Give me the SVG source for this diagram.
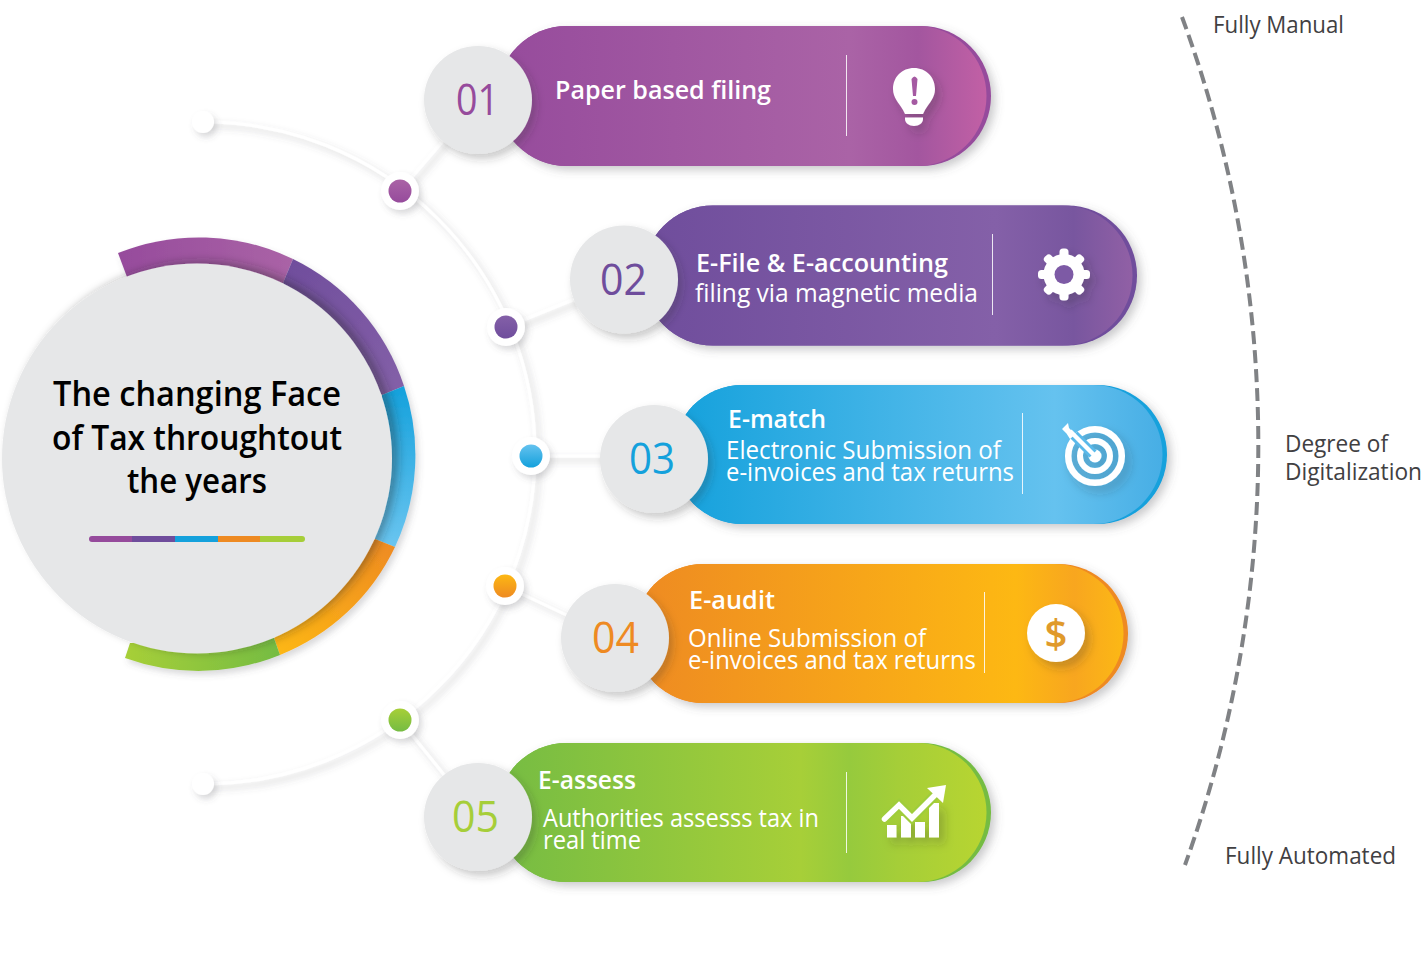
<svg xmlns="http://www.w3.org/2000/svg" width="1424" height="970" viewBox="0 0 1424 970">
<style>
text{font-family:"Open Sans","Noto Sans","Liberation Sans",sans-serif}
.num{font-size:43px;font-weight:400;text-anchor:start}
.head{font-size:25px;font-weight:600;fill:#fff}
.body{font-size:25px;font-weight:400;fill:#fff}
.side{font-size:23px;font-weight:400;fill:#414042}
.title{font-size:34.5px;font-weight:600;fill:#000}
.div{stroke:#fff;stroke-width:1;opacity:.85}
.disc{fill:#e6e7e8;filter:url(#sNum)}
.hub{fill:#fff;filter:url(#sHub)}
.link{fill:none;stroke:#fff;stroke-width:3}
.ic{fill:#fff}
</style>
<defs>
<filter id="sPill" x="-10%" y="-20%" width="125%" height="150%"><feDropShadow dx="4" dy="4" stdDeviation="5" flood-color="#58595b" flood-opacity=".32"/></filter>
<filter id="sNum" x="-30%" y="-30%" width="170%" height="170%"><feDropShadow dx="4" dy="5" stdDeviation="4.500" flood-color="#2b2b2b" flood-opacity=".25"/></filter>
<filter id="sHub" x="-50%" y="-50%" width="220%" height="220%"><feDropShadow dx="3" dy="4" stdDeviation="3" flood-color="#58595b" flood-opacity=".22"/></filter>
<filter id="sLink" x="-10%" y="-10%" width="130%" height="130%"><feDropShadow dx="4" dy="4" stdDeviation="3.500" flood-color="#58595b" flood-opacity=".26"/></filter>
<filter id="sIcon" x="-50%" y="-50%" width="220%" height="220%"><feDropShadow dx="5" dy="6" stdDeviation="5" flood-color="#2b2b2b" flood-opacity=".25"/></filter>
<filter id="sBig" x="-10%" y="-10%" width="125%" height="125%"><feDropShadow dx="6" dy="-2" stdDeviation="5" flood-color="#2b2b2b" flood-opacity=".38"/></filter>
<linearGradient id="p1"><stop offset="0" stop-color="#964b9c"/><stop offset=".72" stop-color="#aa63a6"/><stop offset=".86" stop-color="#a3569f"/><stop offset="1" stop-color="#c260a5"/></linearGradient>
<linearGradient id="p2"><stop offset="0" stop-color="#6f4d9c"/><stop offset=".72" stop-color="#8460a8"/><stop offset=".88" stop-color="#78569f"/><stop offset="1" stop-color="#9160a5"/></linearGradient>
<linearGradient id="p3"><stop offset="0" stop-color="#14a1dc"/><stop offset=".78" stop-color="#65c2ef"/><stop offset="1" stop-color="#47aee5"/></linearGradient>
<linearGradient id="p4"><stop offset="0" stop-color="#ee8a22"/><stop offset=".78" stop-color="#fdb813"/><stop offset=".9" stop-color="#f8a61f"/><stop offset="1" stop-color="#fcb815"/></linearGradient>
<linearGradient id="p5"><stop offset="0" stop-color="#75bc43"/><stop offset=".62" stop-color="#a7cf38"/><stop offset=".72" stop-color="#96ca3d"/><stop offset=".82" stop-color="#a5ce38"/><stop offset="1" stop-color="#b8d531"/></linearGradient>
<linearGradient id="r1"><stop offset="0" stop-color="#964b9c"/><stop offset="1" stop-color="#aa63a6"/></linearGradient>
<linearGradient id="r2" x1="0" y1="0" x2="1" y2="1"><stop offset="0" stop-color="#6f4d9c"/><stop offset="1" stop-color="#8460a8"/></linearGradient>
<linearGradient id="r3" x1="0" y1="0" x2="0" y2="1"><stop offset="0" stop-color="#14a1dc"/><stop offset="1" stop-color="#6ac5f0"/></linearGradient>
<linearGradient id="r4" x1="1" y1="0" x2="0" y2="1"><stop offset="0" stop-color="#ee8a22"/><stop offset="1" stop-color="#fdb813"/></linearGradient>
<linearGradient id="r5" x1="1" y1="0" x2="0" y2="0"><stop offset="0" stop-color="#75bc43"/><stop offset="1" stop-color="#a7cf38"/></linearGradient>
<linearGradient id="d1" x1="0" y1="1" x2="0" y2="0"><stop offset="0" stop-color="#964b9c"/><stop offset="1" stop-color="#aa63a6"/></linearGradient>
<linearGradient id="d2" x1="0" y1="1" x2="0" y2="0"><stop offset="0" stop-color="#6f4d9c"/><stop offset="1" stop-color="#8460a8"/></linearGradient>
<linearGradient id="d3" x1="0" y1="1" x2="0" y2="0"><stop offset="0" stop-color="#14a1dc"/><stop offset="1" stop-color="#65c2ef"/></linearGradient>
<linearGradient id="d4" x1="0" y1="1" x2="0" y2="0"><stop offset="0" stop-color="#ee8a22"/><stop offset="1" stop-color="#fdb813"/></linearGradient>
<linearGradient id="d5" x1="0" y1="1" x2="0" y2="0"><stop offset="0" stop-color="#75bc43"/><stop offset="1" stop-color="#a7cf38"/></linearGradient>
</defs>

<g id="connectors" filter="url(#sLink)">
<path class="link" d="M204 122A331 331 0 0 1 204 784"/>
<path class="link" d="M400 191L478 100"/>
<path class="link" d="M506 327L624 279"/>
<path class="link" d="M531 456H654"/>
<path class="link" d="M505 586L615 638"/>
<path class="link" d="M400 720L478 817"/>
</g>

<path id="scale" d="M1182 17A1239 1239 0 0 1 1185 865" fill="none" stroke="#808285" stroke-width="4" stroke-dasharray="13 6"/>

<g id="start-top"><circle class="hub" cx="203" cy="122" r="11"/></g>
<g id="start-bottom"><circle class="hub" cx="203" cy="784" r="11"/></g>
<g id="hub-1"><circle class="hub" cx="400" cy="191" r="19"/><circle cx="400" cy="191" r="11.500" fill="url(#d1)"/></g>
<g id="hub-2"><circle class="hub" cx="506" cy="327" r="19"/><circle cx="506" cy="327" r="11.500" fill="url(#d2)"/></g>
<g id="hub-3"><circle class="hub" cx="531" cy="456" r="19"/><circle cx="531" cy="456" r="11.500" fill="url(#d3)"/></g>
<g id="hub-4"><circle class="hub" cx="505" cy="586" r="19"/><circle cx="505" cy="586" r="11.500" fill="url(#d4)"/></g>
<g id="hub-5"><circle class="hub" cx="400" cy="720" r="19"/><circle cx="400" cy="720" r="11.500" fill="url(#d5)"/></g>

<g id="center">
<g filter="url(#sHub)">
<path d="M118 253A216.500 216.500 0 0 1 293 259L283 283L127 277Z" fill="url(#r1)"/>
<path d="M293 259A216.500 216.500 0 0 1 404 386L382 395L283 283Z" fill="url(#r2)"/>
<path d="M404 386A216.500 216.500 0 0 1 395 547L375 539L382 395Z" fill="url(#r3)"/>
<path d="M395 547A216.500 216.500 0 0 1 280 655L274 638L375 539Z" fill="url(#r4)"/>
<path d="M280 655A216.500 216.500 0 0 1 125 658L130 643L274 638Z" fill="url(#r5)"/>
</g>
<circle cx="197" cy="458.500" r="195" fill="#e6e7e8" filter="url(#sBig)"/>
<text class="title" x="53" y="406" textLength="288" lengthAdjust="spacingAndGlyphs">The changing Face</text>
<text class="title" x="52" y="449.500" textLength="290" lengthAdjust="spacingAndGlyphs">of Tax throughtout</text>
<text class="title" x="127" y="493" textLength="140" lengthAdjust="spacingAndGlyphs">the years</text>
<path d="M92 536H132V542H92A3 3 0 0 1 92 536Z" fill="#964b9c"/>
<rect x="132" y="536" width="43" height="6" fill="#6f4d9c"/>
<rect x="175" y="536" width="43" height="6" fill="#14a1dc"/>
<rect x="218" y="536" width="42" height="6" fill="#ee8a22"/>
<path d="M260 536H302A3 3 0 0 1 302 542H260Z" fill="#a6ce39"/>
</g>

<g id="node-1">
<rect x="497" y="26" width="494" height="140" rx="70" fill="#964b9c" filter="url(#sPill)"/>
<rect x="497" y="26" width="489.500" height="140" rx="70" fill="url(#p1)"/>
<line class="div" x1="846.500" y1="55" x2="846.500" y2="136"/>
<g filter="url(#sIcon)"><path class="ic" d="M914 68C902 68 893 77 893 89C893 98 899 103 903 110L905 114H923L925 110C929 103 935 98 935 89C935 77 926 68 914 68Z"/><path class="ic" d="M905 117.500H923V119C923 123 919 126 914 126C909 126 905 123 905 119Z"/></g>
<path d="M911.500 79Q914.500 74 917.500 79L916 96H913Z" fill="#a55aa2"/><circle cx="914.500" cy="102" r="3" fill="#a55aa2"/>
<circle class="disc" cx="478" cy="100" r="54"/>
<text class="num" x="456" y="115" fill="#964b9c" textLength="43" lengthAdjust="spacingAndGlyphs">01</text>
<text class="head" x="555" y="99" textLength="216" lengthAdjust="spacingAndGlyphs">Paper based filing</text>
</g>

<g id="node-2">
<rect x="643" y="205.500" width="494" height="140" rx="70" fill="#6f4d9c" filter="url(#sPill)"/>
<rect x="643" y="205.500" width="489.500" height="140" rx="70" fill="url(#p2)"/>
<line class="div" x1="992.500" y1="234" x2="992.500" y2="315"/>
<g filter="url(#sIcon)" fill="#fff">
<circle cx="1064" cy="274.500" r="15" fill="none" stroke="#fff" stroke-width="11"/>
<rect x="1059.500" y="248.500" width="9" height="52" rx="3.500"/><rect x="1038" y="270" width="52" height="9" rx="3.500"/><rect x="1059.500" y="248.500" width="9" height="52" rx="3.500" transform="rotate(45 1064 274.500)"/><rect x="1059.500" y="248.500" width="9" height="52" rx="3.500" transform="rotate(-45 1064 274.500)"/>
</g>
<circle cx="1064" cy="274.500" r="9.500" fill="#7d5aa5"/>
<circle class="disc" cx="624" cy="279.500" r="54"/>
<text class="num" x="600" y="295" fill="#6f4d9c" textLength="47" lengthAdjust="spacingAndGlyphs">02</text>
<text class="head" x="696" y="272" textLength="252" lengthAdjust="spacingAndGlyphs">E-File &amp; E-accounting</text>
<text class="body" x="695" y="302" textLength="283" lengthAdjust="spacingAndGlyphs">filing via magnetic media</text>
</g>

<g id="node-3">
<rect x="673" y="385" width="494" height="139" rx="69.500" fill="#14a1dc" filter="url(#sPill)"/>
<rect x="673" y="385" width="489.500" height="139" rx="69.500" fill="url(#p3)"/>
<line class="div" x1="1022.500" y1="413" x2="1022.500" y2="494"/>
<g filter="url(#sIcon)">
<circle cx="1095" cy="456" r="26.800" fill="none" stroke="#fff" stroke-width="6.500"/>
<circle cx="1095" cy="456" r="15" fill="none" stroke="#fff" stroke-width="6"/>
<circle cx="1095" cy="456" r="6.500" fill="#fff"/>
</g>
<line x1="1093" y1="454" x2="1074" y2="435" stroke="#5ab9ea" stroke-width="10"/>
<line x1="1095" y1="456" x2="1070" y2="431" stroke="#fff" stroke-width="4.500"/>
<path class="ic" d="M1062 429L1068 423L1069 428L1075 434L1070 439L1066.500 433.500Z"/>
<circle class="disc" cx="654" cy="459" r="54"/>
<text class="num" x="629" y="474" fill="#14a1dc" textLength="46" lengthAdjust="spacingAndGlyphs">03</text>
<text class="head" x="728" y="428" textLength="98" lengthAdjust="spacingAndGlyphs">E-match</text>
<text class="body" x="726" y="459" textLength="275" lengthAdjust="spacingAndGlyphs">Electronic Submission of</text>
<text class="body" x="726" y="481" textLength="288" lengthAdjust="spacingAndGlyphs">e-invoices and tax returns</text>
</g>

<g id="node-4">
<rect x="634" y="564" width="494" height="139" rx="69.500" fill="#ee8a22" filter="url(#sPill)"/>
<rect x="634" y="564" width="489.500" height="139" rx="69.500" fill="url(#p4)"/>
<line class="div" x1="984.500" y1="592" x2="984.500" y2="673"/>
<circle cx="1056" cy="633" r="29" fill="#fff" filter="url(#sIcon)"/>
<text x="1056" y="648" text-anchor="middle" style="font-size:40px;font-weight:600" fill="#e09a2b">$</text>
<circle class="disc" cx="615" cy="638" r="54"/>
<text class="num" x="592" y="653" fill="#ee8a22" textLength="47" lengthAdjust="spacingAndGlyphs">04</text>
<text class="head" x="689" y="609" textLength="86" lengthAdjust="spacingAndGlyphs">E-audit</text>
<text class="body" x="688" y="647" textLength="238" lengthAdjust="spacingAndGlyphs">Online Submission of</text>
<text class="body" x="688" y="668.500" textLength="288" lengthAdjust="spacingAndGlyphs">e-invoices and tax returns</text>
</g>

<g id="node-5">
<rect x="497" y="743" width="494" height="139" rx="69.500" fill="#75bc43" filter="url(#sPill)"/>
<rect x="497" y="743" width="489.500" height="139" rx="69.500" fill="url(#p5)"/>
<line class="div" x1="846.500" y1="772" x2="846.500" y2="853"/>
<g filter="url(#sIcon)" fill="#fff">
<path d="M887 825H896.500V837.500H887Z"/><path d="M901 816H911V837.500H901Z"/><path d="M915 822H925V837.500H915Z"/><path d="M929 803H939V837.500H929Z"/>
</g>
<path d="M884.500 819L899 805L912 818L935 795" fill="none" stroke="#9fcd3b" stroke-width="10"/>
<path d="M884.500 819L899 805L912 818L935 795" style="fill:none;stroke:#fff;stroke-width:5.500;stroke-linecap:round"/>
<path class="ic" d="M946 785L927 788L943 803Z"/>
<circle class="disc" cx="478" cy="817" r="54"/>
<text class="num" x="452" y="832" fill="#a6ce39" textLength="47" lengthAdjust="spacingAndGlyphs">05</text>
<text class="head" x="538" y="789" textLength="98" lengthAdjust="spacingAndGlyphs">E-assess</text>
<text class="body" x="543" y="827" textLength="276" lengthAdjust="spacingAndGlyphs">Authorities assesss tax in</text>
<text class="body" x="543" y="849" textLength="98" lengthAdjust="spacingAndGlyphs">real time</text>
</g>

<g id="scale-labels">
<text class="side" x="1213" y="33" textLength="131" lengthAdjust="spacingAndGlyphs">Fully Manual</text>
<text class="side" x="1285" y="452" textLength="103" lengthAdjust="spacingAndGlyphs">Degree of</text>
<text class="side" x="1285" y="480" textLength="137" lengthAdjust="spacingAndGlyphs">Digitalization</text>
<text class="side" x="1225" y="864" textLength="171" lengthAdjust="spacingAndGlyphs">Fully Automated</text>
</g>
</svg>
